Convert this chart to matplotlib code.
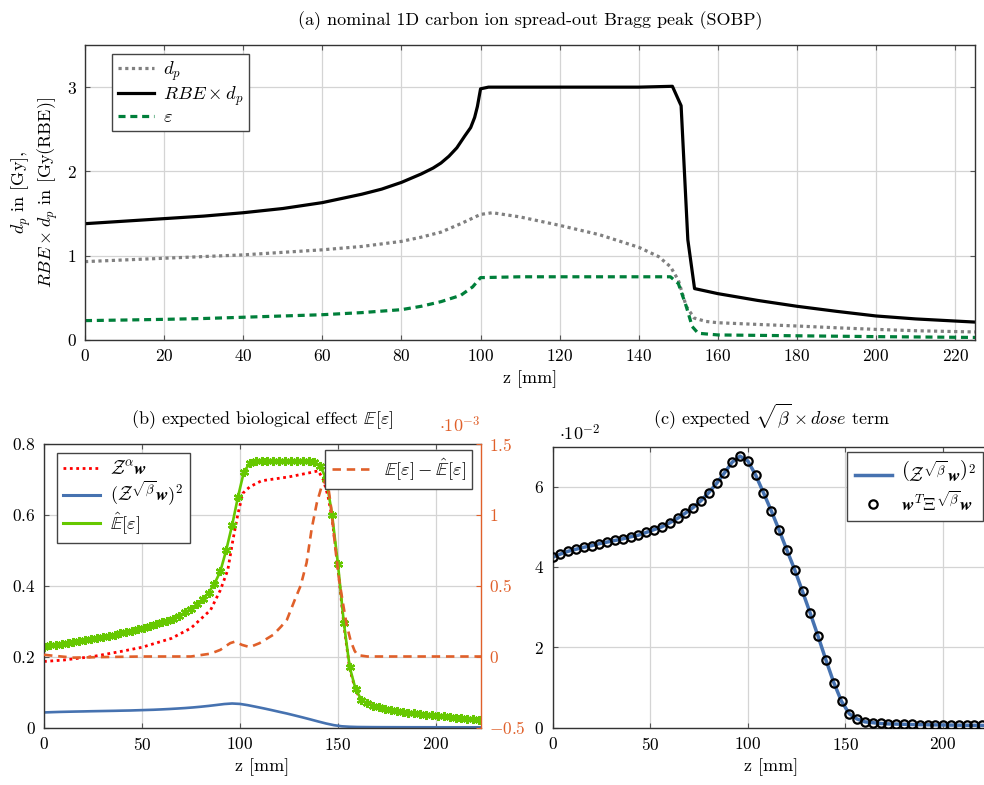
import matplotlib
matplotlib.use('Agg')
import matplotlib.pyplot as plt
from matplotlib.lines import Line2D
from matplotlib.ticker import FuncFormatter

plt.rcParams['font.family'] = 'serif'
plt.rcParams['font.serif'] = ['cmr10', 'DejaVu Serif']
plt.rcParams['mathtext.fontset'] = 'cm'
plt.rcParams['axes.formatter.use_mathtext'] = True
plt.rcParams['font.size'] = 12.5

# ---------------- data: panel (a) ----------------
z_rbe = [0, 10, 20, 30, 40, 50, 60, 70, 75, 80, 85, 88, 90, 92, 94, 95, 96, 97.5, 98.5, 99.2, 100, 102,
         110, 120, 130, 140, 148.5, 150.7, 152.4, 154.1, 160, 170, 180, 190, 200, 210, 220, 226]
rbe_dose = [1.38, 1.41, 1.44, 1.47, 1.51, 1.56, 1.63, 1.73, 1.79, 1.87, 1.97, 2.04, 2.10, 2.18, 2.28,
            2.35, 2.42, 2.52, 2.64, 2.77, 2.98, 3.0, 3.0, 3.0, 3.0, 3.0, 3.01, 2.78, 1.19, 0.61, 0.55,
            0.47, 0.40, 0.34, 0.285, 0.25, 0.225, 0.21]

z_dp = [0, 10, 20, 30, 40, 50, 60, 70, 80, 85, 90, 95, 100, 103, 110, 120, 130, 140, 145, 148, 150,
        152, 154, 157, 160, 170, 180, 190, 200, 210, 220, 226]
dose_p = [0.93, 0.95, 0.97, 0.99, 1.01, 1.04, 1.07, 1.11, 1.17, 1.22, 1.28, 1.38, 1.49, 1.51, 1.46, 1.36,
          1.25, 1.10, 0.99, 0.87, 0.71, 0.40, 0.26, 0.22, 0.205, 0.185, 0.166, 0.145, 0.126, 0.11, 0.10, 0.095]

z_eps = [0, 10, 20, 30, 40, 50, 60, 70, 80, 85, 90, 95, 98, 100, 110, 120, 130, 140, 148, 150, 152,
         153.5, 155, 160, 180, 200, 226]
eps = [0.23, 0.237, 0.245, 0.255, 0.27, 0.285, 0.30, 0.325, 0.36, 0.40, 0.455, 0.53, 0.63, 0.74, 0.75,
       0.75, 0.75, 0.75, 0.75, 0.67, 0.40, 0.16, 0.08, 0.06, 0.05, 0.04, 0.03]

# ---------------- data: panel (b) ----------------
z_alpha = [0, 10, 25, 40, 50, 65, 75, 85, 90, 93.8, 96.4, 99, 101.5, 105, 111, 125, 135, 140, 142.6,
           145, 147, 150, 153, 156, 159, 162, 170, 186, 204, 223]
zalpha_w = [0.186, 0.19, 0.20, 0.215, 0.226, 0.251, 0.28, 0.331, 0.387, 0.444, 0.528, 0.603, 0.66, 0.678,
            0.695, 0.706, 0.717, 0.723, 0.697, 0.65, 0.59, 0.45, 0.29, 0.165, 0.105, 0.075, 0.057, 0.041,
            0.030, 0.022]

z_hat = list(range(0, 223, 3))
e_hat = [0.228, 0.231, 0.233, 0.236, 0.238, 0.241, 0.243, 0.246, 0.249, 0.252, 0.255, 0.258, 0.261,
         0.265, 0.268, 0.272, 0.277, 0.281, 0.286, 0.291, 0.296, 0.301, 0.307, 0.315, 0.324, 0.334,
         0.347, 0.362, 0.380, 0.405, 0.44, 0.50, 0.57, 0.65, 0.72, 0.744, 0.75, 0.752, 0.752, 0.752,
         0.752, 0.752, 0.752, 0.752, 0.752, 0.751, 0.748, 0.737, 0.70, 0.60, 0.46, 0.295, 0.17, 0.108,
         0.078, 0.068, 0.061, 0.057, 0.053, 0.050, 0.047, 0.045, 0.042, 0.040, 0.038, 0.036, 0.034,
         0.032, 0.031, 0.029, 0.027, 0.026, 0.025, 0.024, 0.022]

z_diff = [0, 5, 15, 30, 50, 75, 85, 90, 95, 97.5, 101, 105, 110, 117, 121, 124, 128, 131, 134, 136.6,
          139.2, 141.5, 143.5, 145, 146.5, 148.6, 150.5, 152.5, 154.5, 156.5, 158.5, 160, 165, 223]
diff_e3 = [0.012, 0.005, -0.008, -0.004, 0.0, 0.0, 0.02, 0.047, 0.094, 0.105, 0.082, 0.066, 0.094, 0.153,
           0.211, 0.26, 0.40, 0.50, 0.66, 0.90, 1.08, 1.19, 1.24, 1.20, 1.05, 0.77, 0.55, 0.38, 0.22,
           0.11, 0.04, 0.01, 0.0, 0.0]

# ---------------- data: panel (c) (also blue curve in (b)) ----------------
z_beta = list(range(0, 225, 4))
zbeta_sq = [0.0424, 0.0432, 0.0439, 0.0444, 0.0449, 0.0453, 0.0458, 0.0462, 0.0466, 0.0470, 0.0475,
            0.0479, 0.0486, 0.0493, 0.0500, 0.0510, 0.0521, 0.0534, 0.0548, 0.0565, 0.0585, 0.0608,
            0.0634, 0.0661, 0.0676, 0.0664, 0.0629, 0.0585, 0.0540, 0.0492, 0.0442, 0.0393, 0.0339,
            0.0284, 0.0227, 0.0168, 0.0112, 0.0065, 0.0034, 0.0021, 0.0014, 0.0012, 0.0010, 0.0009,
            0.00085, 0.0008, 0.00075, 0.0007, 0.00068, 0.00065, 0.00062, 0.0006, 0.00058, 0.00056,
            0.00054, 0.00052, 0.0005]

# ---------------- styling ----------------
C_ORANGE = '#e0602a'
C_BLUE = '#4672b0'
C_GREEN = '#66c800'
C_DKGREEN = '#007f3a'

W, H = 984, 785
fig = plt.figure(figsize=(W / 100, H / 100), dpi=100)


def box(l, t, r, b):
    return [l / W, 1 - b / H, (r - l) / W, (b - t) / H]


def gfmt(v, p):
    return f"${v:g}$"


def style(ax, right_ticks=True):
    ax.grid(True, color='#d4d4d4', lw=0.9)
    ax.set_axisbelow(True)
    ax.tick_params(direction='in', length=3.5, width=0.8, color='#555555', labelsize=12.5, pad=6,
                   top=True, right=right_ticks)
    for s in ax.spines.values():
        s.set_color('#333333')
        s.set_linewidth(1.0)
    ax.xaxis.set_major_formatter(FuncFormatter(gfmt))
    ax.yaxis.set_major_formatter(FuncFormatter(gfmt))


leg_kw = dict(frameon=True, fancybox=False, framealpha=1, edgecolor='#444444',
              borderaxespad=0, fontsize=13.3)
TFS = 13

# ---------------- panel (a) ----------------
axa = fig.add_axes(box(85, 45, 975, 340))
style(axa)
axa.plot(z_dp, dose_p, color='#808080', lw=2.3, ls=(0, (1, 1.1)), label=r'$d_p$')
axa.plot(z_rbe, rbe_dose, color='black', lw=2.3, label=r'$RBE \times d_p$')
axa.plot(z_eps, eps, color=C_DKGREEN, lw=2.3, ls=(0, (2.2, 1.5)), label=r'$\varepsilon$')
axa.set_xlim(0, 225)
axa.set_ylim(0, 3.5)
axa.set_xticks(range(0, 221, 20))
axa.set_yticks([0, 1, 2, 3])
axa.set_xlabel('z [mm]', labelpad=4, fontsize=TFS)
axa.set_ylabel("$d_p$ in [Gy],\n$RBE \\times d_p$ in [Gy(RBE)]", multialignment='center', fontsize=TFS)
axa.yaxis.set_label_coords(-0.028, 0.5)
axa.set_title('(a) nominal 1D carbon ion spread-out Bragg peak (SOBP)', pad=14, fontsize=TFS)
axa.legend(loc='upper left', bbox_to_anchor=(112 / W, 1 - 54 / H), bbox_transform=fig.transFigure,
           handlelength=2.0, handletextpad=0.45, labelspacing=0.08, borderpad=0.3, **leg_kw)

# ---------------- panel (b) ----------------
axb = fig.add_axes(box(44, 443.5, 481, 727.5))
style(axb, right_ticks=False)
axb.plot(z_alpha, zalpha_w, color='#ff0000', lw=2.0, ls=(0, (1, 1.3)))
axb.plot(z_beta, zbeta_sq, color=C_BLUE, lw=1.9)
axb.plot(z_hat, e_hat, color=C_GREEN, lw=1.9, marker=(6, 2, 0), ms=6.5, mew=1.7)
axb.set_xlim(0, 223)
axb.set_ylim(0, 0.8)
axb.set_xticks([0, 50, 100, 150, 200])
axb.set_yticks([0, 0.2, 0.4, 0.6, 0.8])
axb.set_xlabel('z [mm]', labelpad=4, fontsize=TFS)
axb.set_title(r'(b) expected biological effect $\mathbb{E}[\boldsymbol{\varepsilon}]$', pad=14,
              fontsize=TFS)
hb = [Line2D([], [], color='#ff0000', lw=2.0, ls=(0, (1, 1.3))),
      Line2D([], [], color=C_BLUE, lw=2.2),
      Line2D([], [], color=C_GREEN, lw=2.2)]
lb = [r'$\mathcal{Z}^{\alpha}\boldsymbol{w}$',
      r'$(\mathcal{Z}^{\sqrt{\beta}}\boldsymbol{w})^2$',
      r'$\hat{\mathbb{E}}[\boldsymbol{\varepsilon}]$']
axb.legend(hb, lb, loc='upper left', bbox_to_anchor=(57 / W, 1 - 453 / H), bbox_transform=fig.transFigure,
           handlelength=2.0, handletextpad=0.5, labelspacing=0.12, borderpad=0.35, **leg_kw)

axr = axb.twinx()
axr.plot(z_diff, diff_e3, color=C_ORANGE, lw=1.9, ls=(0, (3.2, 2.2)),
         label=r'$\mathbb{E}[\boldsymbol{\varepsilon}] - \hat{\mathbb{E}}[\boldsymbol{\varepsilon}]$')
axr.set_ylim(-0.5, 1.5)
axr.set_yticks([-0.5, 0, 0.5, 1, 1.5])
axr.yaxis.set_major_formatter(FuncFormatter(gfmt))
axr.tick_params(direction='in', length=3.5, width=0.8, color=C_ORANGE, labelcolor=C_ORANGE,
                labelsize=12.5, pad=6)
for k, s in axr.spines.items():
    s.set_visible(k == 'right')
axr.spines['right'].set_color(C_ORANGE)
axr.spines['right'].set_linewidth(1.0)
axb.spines['right'].set_visible(False)
axr.legend(loc='upper right', bbox_to_anchor=(472 / W, 1 - 450 / H), bbox_transform=fig.transFigure,
           handlelength=2.2, handletextpad=0.6, borderpad=0.35, **leg_kw)
fig.text(460 / W, 1 - 425 / H, r'$\cdot 10^{-3}$', color=C_ORANGE, ha='center', va='center',
         fontsize=TFS)

# ---------------- panel (c) ----------------
axc = fig.add_axes(box(552.5, 446.5, 990, 727.5))
style(axc)
axc.plot(z_beta, zbeta_sq, color=C_BLUE, lw=2.5, zorder=2,
         label=r'$\left(\mathcal{Z}^{\sqrt{\beta}}\boldsymbol{w}\right)^2$')
axc.plot(z_beta, zbeta_sq, ls='none', marker='o', ms=6, mfc='none', mec='black', mew=1.6, zorder=3,
         label=r'$\boldsymbol{w}^T\Xi^{\sqrt{\beta}}\boldsymbol{w}$')
axc.set_xlim(0, 224)
axc.set_ylim(0, 0.07)
axc.set_xticks([0, 50, 100, 150, 200])
axc.set_yticks([0, 0.02, 0.04, 0.06])
axc.yaxis.set_major_formatter(FuncFormatter(lambda v, p: f"${v * 100:g}$"))
axc.set_xlabel('z [mm]', labelpad=4, fontsize=TFS)
axc.set_title(r'(c) expected $\sqrt{\beta} \times \mathit{dose}$ term', pad=16, fontsize=TFS)
axc.legend(loc='upper right', bbox_to_anchor=(983 / W, 1 - 452 / H), bbox_transform=fig.transFigure,
           handlelength=2.0, handletextpad=0.5, labelspacing=0.3, borderpad=0.4, **leg_kw)
fig.text(580 / W, 1 - 433 / H, r'$\cdot 10^{-2}$', ha='center', va='center', fontsize=TFS)

fig.savefig('out.png', dpi=100)
